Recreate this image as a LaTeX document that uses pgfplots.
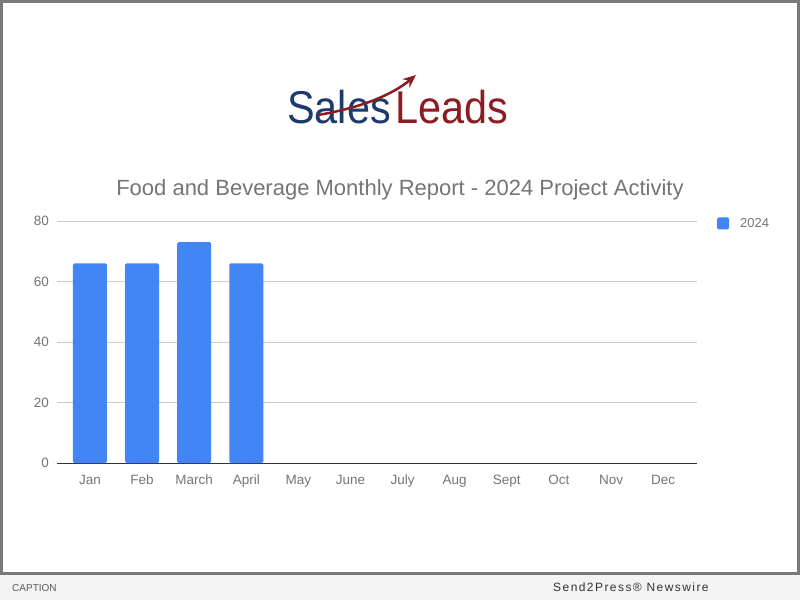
\documentclass[border=0pt]{standalone}
\usepackage{fontspec}
\setmainfont{Liberation Sans}
\newfontfamily\spacedfont[LetterSpace=12]{Liberation Sans}
\usepackage{pgfplots}
\pgfplotsset{compat=1.18}
\usetikzlibrary{arrows.meta}

\definecolor{barblue}{HTML}{4285F4}
\definecolor{tickgray}{HTML}{757575}
\definecolor{gridgray}{HTML}{CCCCCC}
\definecolor{framegray}{HTML}{7A7A7A}
\definecolor{footgray}{HTML}{F3F3F3}
\definecolor{navy}{HTML}{1C3B6B}
\definecolor{darkred}{HTML}{8A1C22}

\begin{document}
\begin{tikzpicture}[x=1pt,y=1pt]
\useasboundingbox (0,0) rectangle (800,600);
% frame and footer
\fill[framegray] (0,25) rectangle (800,600);
\fill[white] (3,28) rectangle (797,597);
\fill[footgray] (0,0) rectangle (800,25);
\node[anchor=base west, inner sep=0pt, text=black!65, font=\fontsize{10}{10}\selectfont] at (12,9) {CAPTION};
\node[anchor=base west, inner sep=0pt, text=black!80, font=\spacedfont\fontsize{12}{12}\selectfont] at (553,9) {Send2Press® Newswire};

% logo
\node[anchor=base west, inner sep=0pt, text=navy, xscale=0.9, font=\fontsize{46}{46}\selectfont] at (287,476) {Sales};
\node[anchor=base west, inner sep=0pt, text=darkred, xscale=0.9, font=\fontsize{46}{46}\selectfont] at (395,476) {Leads};
\draw[darkred, line width=2.5pt, -{Stealth[length=13pt,width=11pt]}] (318,485) .. controls (360,492) and (392,505) .. (416,525);

% title
\node[anchor=base, inner sep=0pt, text=tickgray, font=\fontsize{22}{22}\selectfont] at (400,404) {Food and Beverage Monthly Report - 2024 Project Activity};

\begin{axis}[
    at={(57pt,137pt)}, anchor=south west,
    scale only axis,
    width=640pt, height=242pt,
    ymin=0, ymax=80,
    xmin=-0.633, xmax=11.65,
    ytick={0,20,40,60,80},
    xtick={0,...,11},
    xticklabels={Jan,Feb,March,April,May,June,July,Aug,Sept,Oct,Nov,Dec},
    major tick length=0pt,
    tick style={draw=none},
    axis line style={draw=none},
    ymajorgrids,
    grid style={color=gridgray, line width=1pt},
    extra y ticks={0},
    extra y tick labels={},
    extra y tick style={grid style={color=black!80, line width=1pt}},
    /pgf/number format/assume math mode=true,
    yticklabel style={inner sep=0pt, anchor=east, xshift=-8pt, text=tickgray, font=\fontsize{13.5}{13.5}\selectfont},
    xticklabel style={inner sep=0pt, anchor=base, yshift=-21pt, text=tickgray, font=\fontsize{13.5}{13.5}\selectfont},
    legend style={at={(1,1)}, anchor=north west, xshift=20pt, yshift=5pt, draw=none, fill=none, inner sep=0pt,
        font=\fontsize{13}{13}\selectfont, text=tickgray,
        /tikz/every odd column/.append style={column sep=9pt}},
    legend image code/.code={\fill[barblue] (0pt,-6pt) rectangle (12pt,6pt);},
]
\addplot[ybar, fill=barblue, draw=none, bar width=34pt, rounded corners=1.5pt] coordinates {(0,66) (1,66) (2,73) (3,66)};
\addlegendentry{2024}
\end{axis}
\end{tikzpicture}
\end{document}
